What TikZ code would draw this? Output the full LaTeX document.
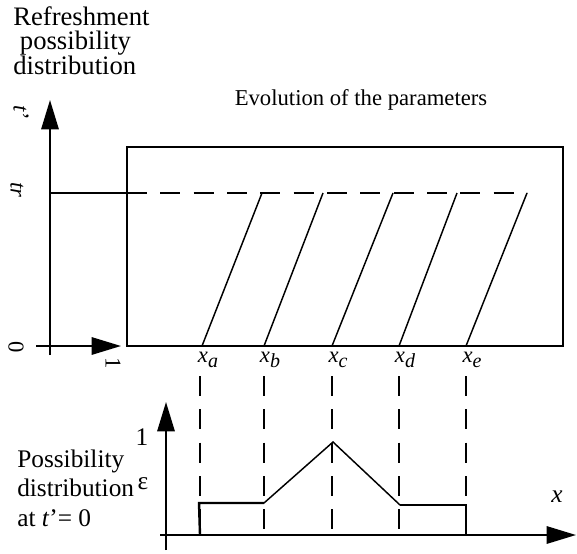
\documentclass[tikz,border=0pt]{standalone}
\usepackage{fontspec}
\setmainfont{Liberation Serif}
\usetikzlibrary{arrows.meta}
\newcommand{\xsub}[1]{\textit{x}\raisebox{-0.5ex}{\fontsize{15}{15}\selectfont\textit{#1}}}

\begin{document}
\begin{tikzpicture}[
  x=0.75pt,y=-0.75pt,
  font=\fontsize{17}{18}\selectfont,
  axis/.style={line width=1.5pt,-{Triangle[length=22pt,width=13pt]}},
  box/.style={line width=1.5pt},
  slant/.style={line width=1.1pt},
  guide/.style={line width=1.2pt,dash pattern=on 15pt off 10pt},
  distr/.style={line width=1.8pt},
  rlabel/.style={rotate=-90,inner sep=0pt},
]
\useasboundingbox (0,0) rectangle (577,553);

% upper part: refreshment distribution and evolution
\node[align=left,inner sep=0pt,anchor=north west,
      font=\fontsize{20}{18.5}\selectfont] (refr) at (13,6)
  {Refreshment\\\ possibility\\distribution};
\node (evo) at (361,100) {Evolution of the parameters};
\coordinate (o1) at (50,355);
\coordinate (t1) at (50,100);
\coordinate (h0) at (36,346);
\coordinate (h1) at (121,346);
\draw[axis] (o1) -- (t1);
\draw[axis] (h0) -- (h1);
\node[rlabel] (tp) at (21,113) {\textit{t\/}’};
\node[rlabel] (tr) at (17,190) {\textit{tr}};
\node[rlabel] (zero) at (16,347) {0};
\node[rlabel] (one) at (113,363) {1};
\coordinate (trl) at (50,193);
\coordinate (trm) at (127,193);
\coordinate (trr) at (527,193);
\draw[distr] (trl) -- (trm);
\draw[guide] (trm) -- (trr);
\draw[box] (127,147) rectangle (563,346);

% slanted lines and feet
\foreach \n/\xb/\xt in {a/202/262,b/264/323,c/332/393,d/399/457,e/466/527}{
  \coordinate (bot\n) at (\xb,346);
  \coordinate (top\n) at (\xt,193);
  \draw[slant] (bot\n) -- (top\n);
  \node[inner sep=0pt] (lab\n) at (\xb+6,360) {\xsub{\n}};
}

% lower part: possibility distribution at t'=0
\node[align=left,inner sep=0pt,anchor=west,
      font=\fontsize{19}{22}\selectfont] (poss) at (17,488)
  {Possibility\\distribution\\at \textit{t\/}’= 0};
\node (eps) at (143,484) {\fontsize{19}{19}\selectfont ε};
\node (onel) at (142,437) {\fontsize{19}{19}\selectfont 1};
\node (xl) at (557,497) {\fontsize{19}{19}\selectfont\textit{x}};
\coordinate (o2) at (166,550);
\coordinate (t2) at (166,402);
\coordinate (h2) at (160,535);
\coordinate (h3) at (576,535);
\draw[axis] (o2) -- (t2);
\draw[axis] (h2) -- (h3);
\foreach \n/\xb in {a/200,b/264,c/332,d/399,e/466}{
  \coordinate (gt\n) at (\xb,376);
  \coordinate (gb\n) at (\xb,535);
  \draw[guide] (gt\n) -- (gb\n);
}
\coordinate (p1) at (200,535);
\coordinate (p2) at (199,503);
\coordinate (p3) at (264,503);
\coordinate (p4) at (333,442);
\coordinate (p5) at (400,505);
\coordinate (p6) at (466,505);
\coordinate (p7) at (466,535);
\draw[distr] (p1) -- (p2) -- (p3);
\draw[line width=1.1pt] (p3) -- (p4) -- (p5);
\draw[distr] (p5) -- (p6) -- (p7);
\end{tikzpicture}
\end{document}
